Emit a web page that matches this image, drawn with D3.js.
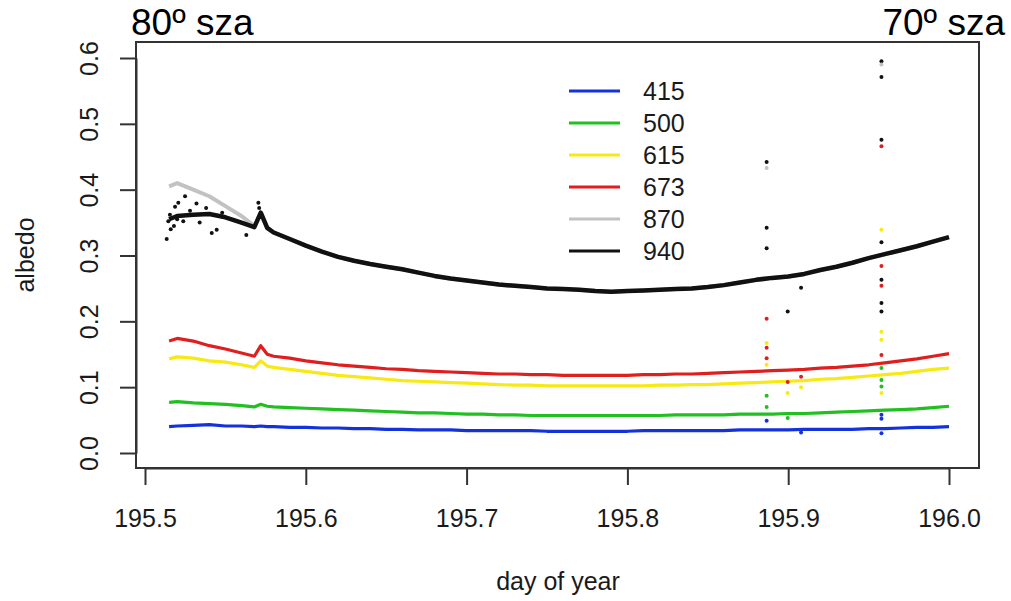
<!DOCTYPE html>
<html>
<head>
<meta charset="utf-8">
<script src="https://cdn.jsdelivr.net/npm/d3@7"></script>
<style>
  body { margin: 0; background: #fff; }
  text { font-family: "Liberation Sans", Arial, sans-serif; fill: #1a1a1a; }
</style>
</head>
<body>
<div id="chart"></div>
<script>

// day of year grid the traces were read at
var days = [195.515, 195.52, 195.53, 195.54, 195.55, 195.56, 195.568, 195.572, 195.576,
  195.58, 195.59, 195.60, 195.61, 195.62, 195.63, 195.64, 195.65, 195.66, 195.67,
  195.68, 195.69, 195.70, 195.71, 195.72, 195.73, 195.74, 195.75, 195.76, 195.77,
  195.78, 195.79, 195.80, 195.81, 195.82, 195.83, 195.84, 195.85, 195.86, 195.87,
  195.88, 195.89, 195.90, 195.91, 195.92, 195.93, 195.94, 195.95, 195.96, 195.97,
  195.98, 195.99, 196.00];

var alb415 = [0.040, 0.041, 0.042, 0.043, 0.041, 0.041, 0.040, 0.041, 0.040,
  0.040, 0.039, 0.039, 0.038, 0.038, 0.037, 0.037, 0.036, 0.036, 0.035,
  0.035, 0.035, 0.034, 0.034, 0.034, 0.034, 0.034, 0.033, 0.033, 0.033,
  0.033, 0.033, 0.033, 0.034, 0.034, 0.034, 0.034, 0.034, 0.034, 0.035,
  0.035, 0.035, 0.035, 0.036, 0.036, 0.036, 0.036, 0.037, 0.037, 0.038,
  0.039, 0.039, 0.040];

var alb500 = [0.077, 0.078, 0.076, 0.075, 0.074, 0.072, 0.070, 0.074, 0.071,
  0.070, 0.069, 0.068, 0.067, 0.066, 0.065, 0.064, 0.063, 0.062, 0.061,
  0.061, 0.060, 0.059, 0.059, 0.058, 0.058, 0.057, 0.057, 0.057, 0.057,
  0.057, 0.057, 0.057, 0.057, 0.057, 0.058, 0.058, 0.058, 0.058, 0.059,
  0.059, 0.059, 0.060, 0.060, 0.061, 0.062, 0.063, 0.064, 0.065, 0.066,
  0.067, 0.069, 0.071];

var alb615 = [0.143, 0.146, 0.144, 0.140, 0.138, 0.134, 0.130, 0.140, 0.132,
  0.130, 0.127, 0.124, 0.121, 0.118, 0.116, 0.114, 0.112, 0.110, 0.109,
  0.108, 0.107, 0.106, 0.105, 0.104, 0.103, 0.103, 0.102, 0.102, 0.102,
  0.102, 0.102, 0.102, 0.102, 0.103, 0.103, 0.104, 0.104, 0.105, 0.106,
  0.107, 0.108, 0.109, 0.110, 0.112, 0.113, 0.115, 0.117, 0.119, 0.121,
  0.124, 0.127, 0.129];

var alb673 = [0.170, 0.174, 0.170, 0.163, 0.158, 0.152, 0.147, 0.163, 0.150,
  0.147, 0.144, 0.140, 0.137, 0.134, 0.132, 0.130, 0.128, 0.127, 0.125,
  0.124, 0.123, 0.122, 0.121, 0.120, 0.120, 0.119, 0.119, 0.118, 0.118,
  0.118, 0.118, 0.118, 0.119, 0.119, 0.120, 0.120, 0.121, 0.122, 0.123,
  0.124, 0.125, 0.126, 0.127, 0.129, 0.130, 0.132, 0.134, 0.137, 0.140,
  0.143, 0.147, 0.151];

var alb870 = [0.405, 0.410, 0.400, 0.390, 0.375, 0.360, 0.345, 0.365, 0.342,
  0.335, 0.325, 0.315, 0.306, 0.298, 0.292, 0.287, 0.283, 0.279, 0.274,
  0.269, 0.265, 0.262, 0.259, 0.256, 0.254, 0.252, 0.250, 0.249, 0.248,
  0.246, 0.245, 0.246, 0.247, 0.248, 0.249, 0.250, 0.252, 0.255, 0.259,
  0.263, 0.266, 0.268, 0.272, 0.278, 0.283, 0.289, 0.296, 0.302, 0.308,
  0.314, 0.321, 0.328];

var alb940 = [0.355, 0.360, 0.362, 0.363, 0.358, 0.350, 0.343, 0.365, 0.342,
  0.335, 0.325, 0.315, 0.306, 0.298, 0.292, 0.287, 0.283, 0.279, 0.274,
  0.269, 0.265, 0.262, 0.259, 0.256, 0.254, 0.252, 0.250, 0.249, 0.248,
  0.246, 0.245, 0.246, 0.247, 0.248, 0.249, 0.250, 0.252, 0.255, 0.259,
  0.263, 0.266, 0.268, 0.272, 0.278, 0.283, 0.289, 0.296, 0.302, 0.308,
  0.314, 0.321, 0.328];

// stray points (cloud edges etc.)
var strayDays = [195.5135, 195.5145, 195.5155, 195.5187, 195.5207, 195.5238, 195.5249,
  195.532, 195.534, 195.5415, 195.5446, 195.563, 195.5705, 195.571,
  195.516, 195.518, 195.520, 195.528, 195.538, 195.548,
  195.8866, 195.8866, 195.8866, 195.8866, 195.8866, 195.8866, 195.8866, 195.8866,
  195.8866, 195.8866, 195.8866, 195.8866,
  195.8997, 195.8997, 195.8997, 195.8997,
  195.908, 195.908, 195.908, 195.908,
  195.958, 195.958, 195.958, 195.958, 195.958, 195.958, 195.958, 195.958,
  195.958, 195.958, 195.958, 195.958, 195.958, 195.958, 195.958, 195.958,
  195.958, 195.958, 195.958, 195.958, 195.958, 195.958];
var strayValues = [0.325, 0.352, 0.362, 0.374, 0.380, 0.352, 0.390,
  0.379, 0.350, 0.334, 0.339, 0.331, 0.380, 0.372,
  0.340, 0.345, 0.355, 0.368, 0.372, 0.365,
  0.442, 0.433, 0.342, 0.311, 0.204, 0.167, 0.160, 0.144,
  0.134, 0.087, 0.070, 0.049,
  0.215, 0.108, 0.091, 0.053,
  0.251, 0.116, 0.100, 0.031,
  0.595, 0.590, 0.571, 0.476, 0.466, 0.339, 0.320, 0.284,
  0.263, 0.254, 0.228, 0.215, 0.184, 0.172, 0.149, 0.129,
  0.111, 0.101, 0.091, 0.058, 0.052, 0.030];
var strayBands = ["940", "940", "940", "940", "940", "940", "940",
  "940", "940", "940", "940", "940", "940", "940",
  "940", "940", "940", "940", "940", "940",
  "940", "870", "940", "940", "673", "615", "673", "673",
  "615", "500", "500", "415",
  "940", "673", "615", "500",
  "940", "673", "615", "415",
  "940", "870", "940", "940", "673", "615", "940", "673",
  "940", "673", "940", "940", "615", "615", "673", "500",
  "500", "500", "615", "415", "415", "415"];

var bands = ["415", "500", "615", "673", "870", "940"];
var bandColors = ["#1432dc", "#1fc01f", "#f6ea12", "#e01e1e", "#c2c2c2", "#111111"];
var xTicks = [195.5, 195.6, 195.7, 195.8, 195.9, 196.0];
var yTicks = [0.0, 0.1, 0.2, 0.3, 0.4, 0.5, 0.6];

var width = 1011, height = 601;
var box = {left: 136, right: 979, top: 42, bottom: 468};

var svg = d3.select("#chart").append("svg")
    .attr("width", width)
    .attr("height", height);

svg.append("rect").attr("width", width).attr("height", height).attr("fill", "#fff");

var x = d3.scaleLinear().domain([195.5, 196.0]).range([145, 949]);
var y = d3.scaleLinear().domain([0, 0.6]).range([453, 58]);
var color = d3.scaleOrdinal().domain(bands).range(bandColors);

var seriesValues = {"415": alb415, "500": alb500, "615": alb615, "673": alb673, "870": alb870, "940": alb940};

var line = d3.line()
    .x(function(d, i) { return x(days[i]); })
    .y(function(d) { return y(d); });

// draw order: 870 under 940, then visible bands
var drawOrder = ["870", "940", "673", "615", "500", "415"];
drawOrder.forEach(function(b) {
  svg.append("path")
      .datum(seriesValues[b])
      .attr("fill", "none")
      .attr("stroke", color(b))
      .attr("stroke-width", b == "940" ? 4.5 : (b == "870" ? 4 : 3.2))
      .attr("stroke-linejoin", "round")
      .attr("d", line);
});

svg.append("g").selectAll("circle")
    .data(strayDays)
  .enter().append("circle")
    .attr("cx", function(d) { return x(d); })
    .attr("cy", function(d, i) { return y(strayValues[i]); })
    .attr("r", 2)
    .attr("fill", function(d, i) { return color(strayBands[i]); });

// plot frame
svg.append("rect")
    .attr("x", box.left).attr("y", box.top)
    .attr("width", box.right - box.left).attr("height", box.bottom - box.top)
    .attr("fill", "none").attr("stroke", "#333").attr("stroke-width", 2);

// x axis
var xAxis = svg.append("g")
    .attr("transform", "translate(0," + box.bottom + ")")
    .call(d3.axisBottom(x).tickValues(xTicks).tickFormat(d3.format(".1f"))
      .tickSize(17).tickPadding(24).tickSizeOuter(0));
xAxis.select(".domain").attr("stroke", "#333").attr("stroke-width", 2);
xAxis.selectAll(".tick line").attr("stroke", "#333").attr("stroke-width", 2);
xAxis.selectAll("text").attr("font-size", 25).attr("fill", "#1a1a1a")
    .style("font-family", "'Liberation Sans', Arial, sans-serif");

// y axis
var yAxis = svg.append("g")
    .attr("transform", "translate(" + box.left + ",0)")
    .call(d3.axisLeft(y).tickValues(yTicks).tickFormat(d3.format(".1f"))
      .tickSize(16).tickPadding(0).tickSizeOuter(0));
yAxis.select(".domain").attr("stroke", "#333").attr("stroke-width", 2);
yAxis.selectAll(".tick line").attr("stroke", "#333").attr("stroke-width", 2);
yAxis.selectAll("text")
    .attr("font-size", 25).attr("fill", "#1a1a1a")
    .style("font-family", "'Liberation Sans', Arial, sans-serif")
    .attr("x", null).attr("dy", null)
    .attr("text-anchor", "middle")
    .attr("transform", "translate(-38,0) rotate(-90)");

// axis titles
svg.append("text")
    .attr("x", 558).attr("y", 590)
    .attr("text-anchor", "middle")
    .attr("font-size", 25)
    .text("day of year");

svg.append("text")
    .attr("transform", "translate(34,255) rotate(-90)")
    .attr("text-anchor", "middle")
    .attr("font-size", 25)
    .text("albedo");

// solar zenith angle notes
svg.append("text")
    .attr("x", 131).attr("y", 35)
    .attr("font-size", 37).style("fill", "#000")
    .text("80º sza");
svg.append("text")
    .attr("x", 1005).attr("y", 35)
    .attr("text-anchor", "end")
    .attr("font-size", 37).style("fill", "#000")
    .text("70º sza");

// legend
var legend = svg.append("g").selectAll("g")
    .data(bands)
  .enter().append("g")
    .attr("transform", function(d, i) { return "translate(569," + (91 + i * 32) + ")"; });
legend.append("line")
    .attr("x1", 0).attr("x2", 51)
    .attr("stroke", function(d) { return color(d); })
    .attr("stroke-width", 3);
legend.append("text")
    .attr("x", 74).attr("dy", "0.35em")
    .attr("font-size", 25)
    .text(function(d) { return d; });

</script>
</body>
</html>
